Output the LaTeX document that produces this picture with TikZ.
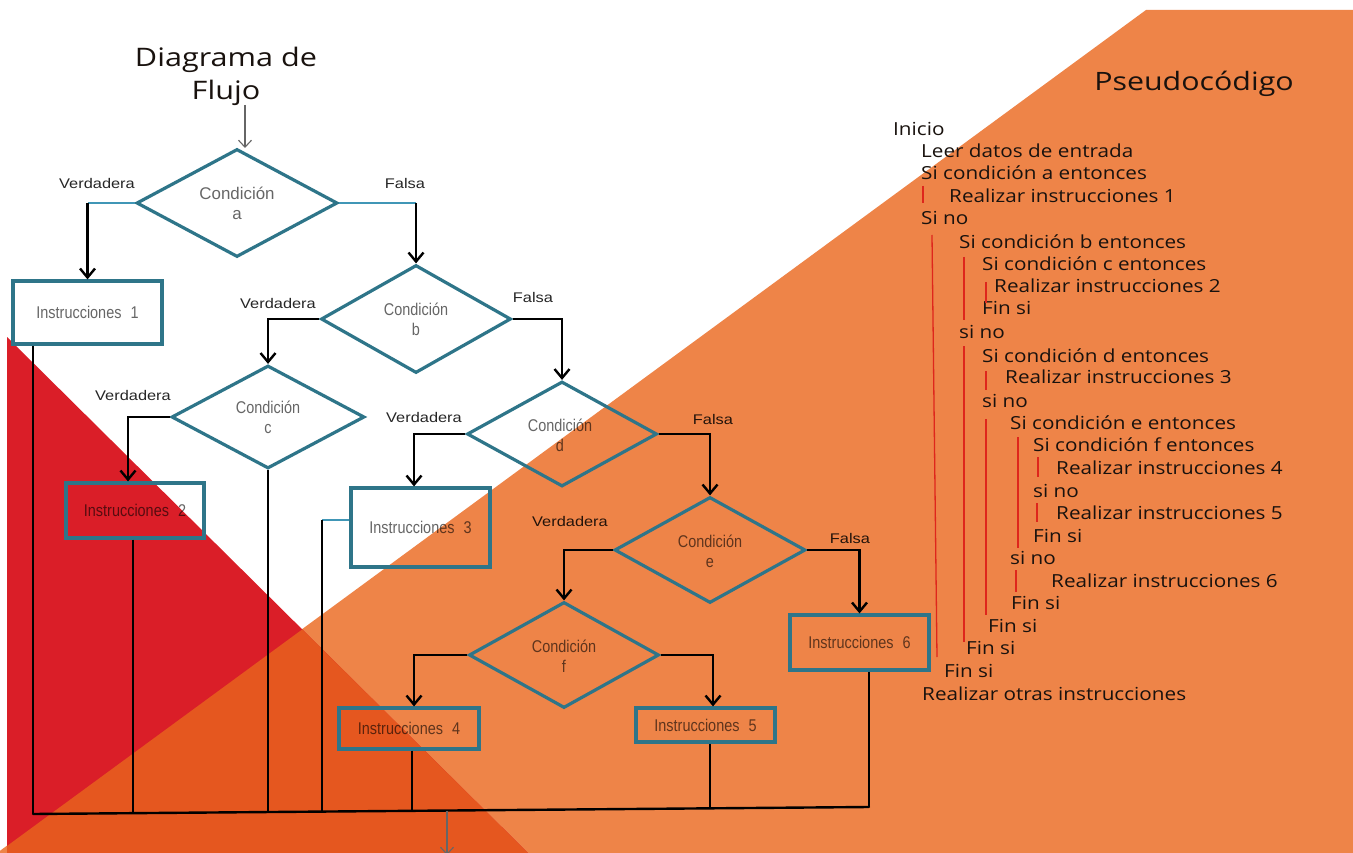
\documentclass[tikz,border=0pt]{standalone}
\usepackage{fontspec}
\setmainfont{Liberation Sans}
\newfontfamily\labfont{Liberation Sans}[FakeStretch=1.17]
\newfontfamily\boxfont{Liberation Sans}[FakeStretch=0.85]
\newfontfamily\pfont{Open Sans}[FakeStretch=1.15]
\newfontfamily\tfont{Open Sans}[FakeStretch=1.2]
\usetikzlibrary{shapes.geometric,arrows.meta,calc}
\definecolor{orangeL}{RGB}{238,132,72}
\definecolor{redC}{RGB}{218,30,40}
\definecolor{overC}{RGB}{229,87,31}
\definecolor{tealc}{RGB}{46,117,137}
\definecolor{tealthin}{RGB}{64,150,182}
\definecolor{pbar}{RGB}{222,38,28}
\definecolor{ptext}{RGB}{25,18,14}
\begin{document}
\begin{tikzpicture}[x=1pt,y=-1pt,
  dia/.style={diamond,draw=tealc,line width=3.2pt,inner sep=0pt,minimum width=190pt,minimum height=106pt},
  box/.style={rectangle,draw=tealc,line width=3.2pt,inner sep=0pt,font=\boxfont\fontsize{17}{20}\selectfont,text=black,text opacity=0.6},
  dtext/.style={inner sep=0pt,align=center,font=\boxfont\fontsize{17}{20}\selectfont,text=black,text opacity=0.6},
  lab/.style={inner sep=0pt,font=\labfont\fontsize{14}{17}\selectfont,text=black,text opacity=0.85},
  conn/.style={line width=2.4pt,black},
  arr/.style={line width=2.4pt,black,-{Straight Barb[length=9pt,width=15pt]}},
  tline/.style={line width=1.6pt,tealthin},
  garr/.style={line width=1.1pt,black!60,-{Straight Barb[length=7pt,width=13pt]}},
  ptxt/.style={inner sep=0pt,anchor=base west,font=\pfont\fontsize{18}{20}\selectfont,text=ptext},
  pbarl/.style={line width=1.3pt,pbar}
]
\useasboundingbox (0,0) rectangle (1353,853);
\begin{scope}
\clip (0,0) rectangle (1353,853);
\fill[white] (0,0) rectangle (1353,853);
\fill[orangeL] (1146,10) -- (1353,10) -- (1353,853) -- (-3,853) -- cycle;
\fill[redC] (7,337) -- (528,853) -- (7,853) -- cycle;
\fill[overC] (302.3,629.4) -- (528,853) -- (7,853) -- (7,846) -- cycle;
\end{scope}

% titles
\node[inner sep=0pt,align=center,font=\tfont\fontsize{25.5}{33}\selectfont,text=ptext] (title) at (226,76) {Diagrama de\\Flujo};
\node[inner sep=0pt,anchor=base,font=\tfont\fontsize{25.3}{30}\selectfont,text=ptext] (ptitle) at (1194,91) {Pseudocódigo};

% decision nodes
\node[dia,minimum width=201pt,minimum height=108pt] (a) at (237,203) {};
\node[dia,minimum height=108pt] (b) at (416,319) {};
\node[dia,minimum width=193pt,minimum height=103pt] (c) at (268,417) {};
\node[dia,minimum height=105pt] (d) at (562,434) {};
\node[dia,minimum width=191pt] (e) at (710,550) {};
\node[dia] (f) at (564,655) {};
\node[dtext,font=\fontsize{16.9}{20}\selectfont] (ta) at (237,203) {Condición\\a};
\node[dtext] (tb) at (416,319) {Condición\\b};
\node[dtext] (tc) at (268,417) {Condición\\c};
\node[dtext] (td) at (560,435) {Condición\\d};
\node[dtext] (te) at (710,551) {Condición\\e};
\node[dtext] (tf) at (564,656) {Condición\\f};

% instruction boxes
\node[box,minimum width=149pt,minimum height=63pt] (i1) at (87.5,312.5) {Instrucciones\hspace{9pt}1};
\node[box,minimum width=138pt,minimum height=55pt] (i2) at (135,510.5) {Instrucciones\hspace{9pt}2};
\node[box,minimum width=139pt,minimum height=79pt] (i3) at (420.5,527.5) {Instrucciones\hspace{9pt}3};
\node[box,minimum width=140pt,minimum height=41pt] (i4) at (409,728.5) {Instrucciones\hspace{9pt}4};
\node[box,minimum width=139pt,minimum height=34pt] (i5) at (705.5,725) {Instrucciones\hspace{9pt}5};
\node[box,minimum width=139pt,minimum height=55pt] (i6) at (859.5,642.5) {Instrucciones\hspace{9pt}6};

% branch labels
\node[lab] (va) at (97,183) {Verdadera};
\node[lab] (fa) at (405,183) {Falsa};
\node[lab] (vb) at (278,303) {Verdadera};
\node[lab] (fb) at (533,297) {Falsa};
\node[lab] (vc) at (133,395) {Verdadera};
\node[lab] (vd) at (424,417) {Verdadera};
\node[lab] (fd) at (713,419) {Falsa};
\node[lab] (ve) at (570,521) {Verdadera};
\node[lab] (fe) at (850,538) {Falsa};

% helper coordinates
\coordinate (t0) at (245,105);
\coordinate (t1) at (245,148);
\coordinate (k2) at (128,0);
\coordinate (k3) at (414,0);
\coordinate (k4) at (414,0);
\coordinate (k5) at (713,0);
\coordinate (t3) at (322,520);
\coordinate (m1) at (33,814);
\coordinate (m2) at (133,813.2);
\coordinate (m3) at (268,812);
\coordinate (m4) at (322,811.6);
\coordinate (m5) at (412,810.8);
\coordinate (mo) at (447,810.5);
\coordinate (m6) at (710,808.3);
\coordinate (m7) at (869,807);
\coordinate (out) at (447,855);

% connectors
\draw[garr] (t0) -- (t1);
\draw[tline] (a.west) -- (a.west -| i1.north);
\draw[arr] (a.west -| i1.north) -- (i1.north);
\draw[tline] (a.east) -- (a.east -| b.north);
\draw[arr] (a.east -| b.north) -- (b.north);
\draw[arr] (b.west) -| (c.north);
\draw[arr] (b.east) -| (d.north);
\draw[arr] (c.west) -| (k2 |- i2.north);
\draw[arr] (d.west) -| (k3 |- i3.north);
\draw[arr] (d.east) -| (e.north);
\draw[arr] (e.west) -| (f.north);
\draw[arr] (e.east) -| (i6.north);
\draw[arr] (f.west) -| (k4 |- i4.north);
\draw[arr] (f.east) -| (k5 |- i5.north);

% merging
\draw[conn] (m1 |- i1.south) -- (m1);
\draw[conn] (m2 |- i2.south) -- (m2);
\draw[conn] (c.south) -- (m3);
\draw[tline] (t3 -| i3.west) -- (t3);
\draw[conn] (t3) -- (m4);
\draw[conn] (m5 |- i4.south) -- (m5);
\draw[conn] (m6 |- i5.south) -- (m6);
\draw[conn] (m7 |- i6.south) -- (m7);
\draw[conn,line cap=round] (m1) -- (m7);
\draw[garr] (mo) -- (out);

% pseudocode
\node[ptxt] (p1) at (893,136) {Inicio};
\node[ptxt] (p2) at (921,158) {Leer datos de entrada};
\node[ptxt] (p3) at (921,180) {Si condición a entonces};
\node[ptxt] (p4) at (949,203) {Realizar instrucciones 1};
\node[ptxt] (p5) at (921,225) {Si no};
\node[ptxt] (p6) at (959,249) {Si condición b entonces};
\node[ptxt] (p7) at (982,271) {Si condición c entonces};
\node[ptxt] (p8) at (994,293) {Realizar instrucciones 2};
\node[ptxt] (p9) at (982,315) {Fin si};
\node[ptxt] (p10) at (959,338) {si no};
\node[ptxt] (p11) at (982,362) {Si condición d entonces};
\node[ptxt] (p12) at (1005,383) {Realizar instrucciones 3};
\node[ptxt] (p13) at (982,407) {si no};
\node[ptxt] (p14) at (1010,429) {Si condición e entonces};
\node[ptxt] (p15) at (1033,451) {Si condición f entonces};
\node[ptxt] (p16) at (1056,474) {Realizar instrucciones 4};
\node[ptxt] (p17) at (1033,497) {si no};
\node[ptxt] (p18) at (1056,519) {Realizar instrucciones 5};
\node[ptxt] (p19) at (1033,542) {Fin si};
\node[ptxt] (p20) at (1010,564) {si no};
\node[ptxt] (p21) at (1051,587) {Realizar instrucciones 6};
\node[ptxt] (p22) at (1011,609) {Fin si};
\node[ptxt] (p23) at (988,632) {Fin si};
\node[ptxt] (p24) at (966,654) {Fin si};
\node[ptxt] (p25) at (944,677) {Fin si};
\node[ptxt] (p26) at (922,700) {Realizar otras instrucciones};

% red guide bars
\draw[pbarl] (923,186) -- (923,203);
\draw[pbarl] (932,235) -- (937,657);
\draw[pbarl] (964,257) -- (964,320);
\draw[pbarl] (986,282) -- (986,303);
\draw[pbarl] (964,346) -- (964,642);
\draw[pbarl] (986,371) -- (986,390);
\draw[pbarl] (986,419) -- (986,615);
\draw[pbarl] (1018,437) -- (1018,548);
\draw[pbarl] (1038,457) -- (1038,477);
\draw[pbarl] (1037,503) -- (1037,522);
\draw[pbarl] (1016,570) -- (1016,592);
\end{tikzpicture}
\end{document}
